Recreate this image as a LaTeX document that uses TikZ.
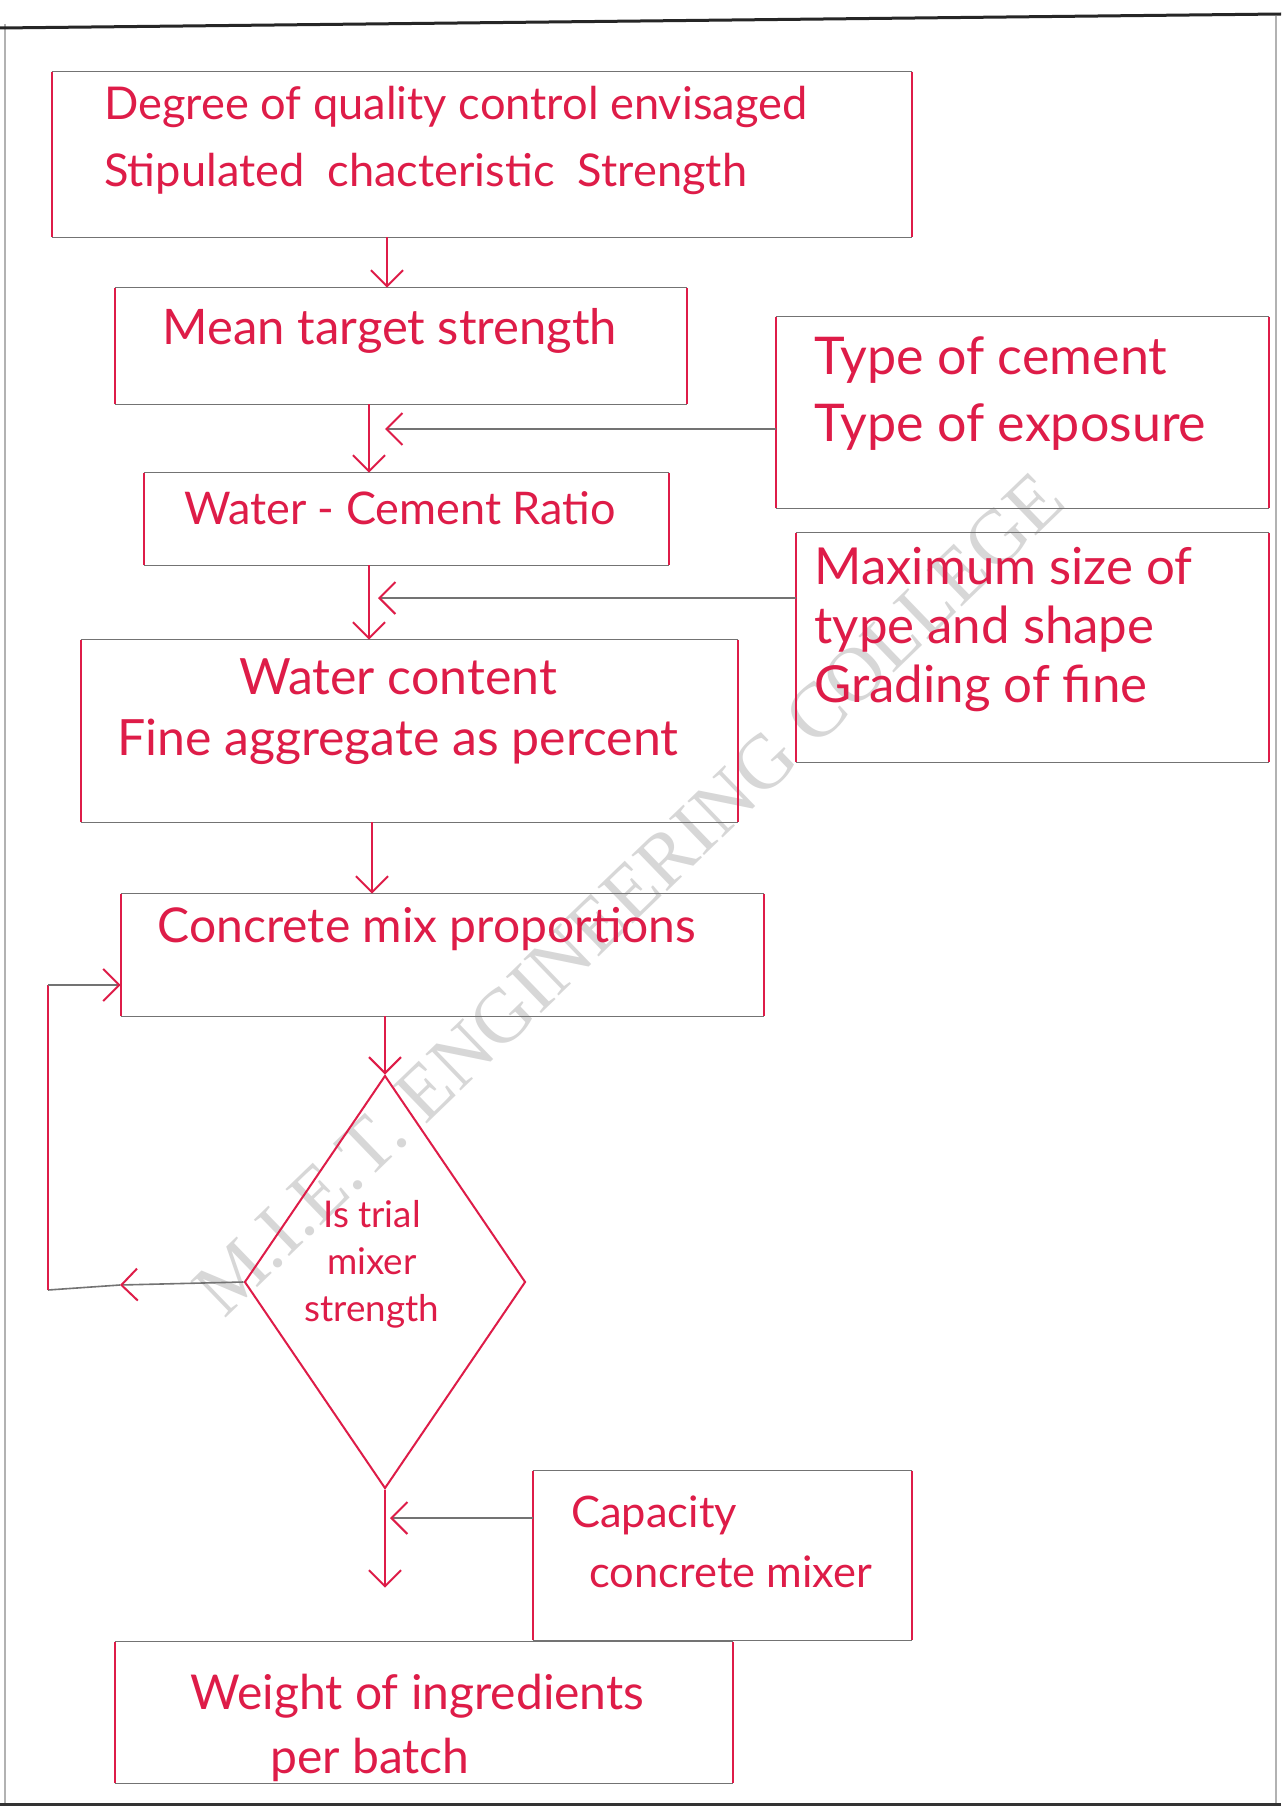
\documentclass[tikz,border=0pt]{standalone}
\usepackage{fontspec}
\setmainfont{Lato}
\newfontfamily\wmfont{Liberation Serif}
\usetikzlibrary{shapes.geometric,arrows.meta,calc}
\definecolor{pen}{RGB}{222,28,72}
\definecolor{pencil}{RGB}{115,115,115}
\definecolor{wmark}{RGB}{215,215,215}
\newcommand{\drawbox}[1]{%
  \draw[hline] (#1.north west) -- (#1.north east);
  \draw[hline] (#1.south west) -- (#1.south east);
  \draw[vline] (#1.north west) -- (#1.south west);
  \draw[vline] (#1.north east) -- (#1.south east);}
\begin{document}
\begin{tikzpicture}[x=0.5pt,y=-0.5pt,
  box/.style={rectangle, inner sep=0pt, draw=none},
  hline/.style={draw=pencil, line width=0.8pt},
  vline/.style={draw=pen, line width=1pt},
  lbl/.style={text=pen, inner sep=0pt, font=\fontsize{22}{33}\selectfont},
  vconn/.style={draw=pen, line width=1pt, -{Straight Barb[length=8pt,width=16pt,color=pen]}},
  hconn/.style={draw=pencil, line width=0.8pt, -{Straight Barb[length=8pt,width=16pt,color=pen,line width=1pt]}},
  dia/.style={diamond, draw=pen, line width=1pt, inner sep=0pt, minimum width=140.5pt, minimum height=206.5pt},
]
\useasboundingbox (0,0) rectangle (1281,1809);
\fill[white] (0,0) rectangle (1281,1809);
% watermark
\node[rotate=44, text=wmark, inner sep=0pt] (wm) at (629,894) {\resizebox{587pt}{!}{\wmfont M.I.E.T. ENGINEERING COLLEGE}};
% page frame
\draw[gray!60, line width=0.8pt] (5,24) -- (5,1803);
\draw[gray!60, line width=0.8pt] (1276,16) -- (1276,1803);
\draw[black!85, line width=1.5pt] (0,28) -- (1281,14);
\draw[black!80, line width=1.5pt] (0,1804) -- (1281,1804);

% boxes
\node[box, minimum width=430pt, minimum height=82.5pt] (b1) at (482,154.5) {};
\node[box, minimum width=286pt, minimum height=58pt] (b2) at (401,346) {};
\node[box, minimum width=246.5pt, minimum height=95.5pt] (b3) at (1022.5,412.5) {};
\node[box, minimum width=262.5pt, minimum height=46pt] (b4) at (406.5,519) {};
\node[box, minimum width=236.5pt, minimum height=114.5pt] (b5) at (1032.5,647.5) {};
\node[box, minimum width=328.5pt, minimum height=91pt] (b6) at (409.5,731) {};
\node[box, minimum width=321.5pt, minimum height=61pt] (b7) at (442.5,955) {};
\node[dia] (d) at (385,1282) {};
\node[box, minimum width=189.5pt, minimum height=84.5pt] (b8) at (722.5,1555.5) {};
\node[box, minimum width=309pt, minimum height=70.5pt] (b9) at (424,1712.5) {};
\drawbox{b1}\drawbox{b2}\drawbox{b3}\drawbox{b4}\drawbox{b5}
\drawbox{b6}\drawbox{b7}\drawbox{b8}\drawbox{b9}

% texts
\node[lbl, anchor=west, align=left, font=\fontsize{22.6}{33.5}\selectfont] (t1) at (104,140) {Degree of quality control envisaged\\Stipulated \ chacteristic \ Strength};
\node[lbl, font=\fontsize{24.5}{30}\selectfont] (t2) at (390,331) {Mean target strength};
\node[lbl, anchor=west, align=left, font=\fontsize{26}{33.5}\selectfont] (t3) at (814,394) {Type of cement\\Type of exposure};
\node[lbl, font=\fontsize{22.5}{30}\selectfont] (t4) at (400,508) {Water - Cement Ratio};
\node[lbl, anchor=west, align=left, font=\fontsize{25.5}{29.5}\selectfont] (t5) at (814,630) {Maximum size of\\type and shape\\Grading of fine};
\node[lbl, align=center, font=\fontsize{25}{30.5}\selectfont] (t6) at (398,712) {Water content\\Fine aggregate as percent};
\node[lbl, font=\fontsize{24}{30}\selectfont] (t7) at (427,929) {Concrete mix proportions};
\node[lbl, align=center, font=\fontsize{18.4}{23.5}\selectfont] (t8) at (372,1264) {Is trial\\mixer\\strength};
\node[lbl, anchor=west, align=left, font=\fontsize{21.7}{30}\selectfont] (t9) at (571,1542) {Capacity\\\hspace{9pt}concrete mixer};
\node[lbl, anchor=west, align=left, font=\fontsize{24}{32}\selectfont] (t10) at (190,1728) {Weight of ingredients\\\hspace{40pt}per batch};

% trunk coordinates
\coordinate (x1) at (387,0);
\coordinate (x2) at (369,0);
\coordinate (x4) at (372,0);
\coordinate (j1) at (385,429);
\coordinate (j2) at (378,598);
\coordinate (j3) at (390,1518);
\coordinate (l1) at (120,1285);
\coordinate (l2) at (48,1290);
\coordinate (l3) at (48,985);

% vertical connectors
\draw[vconn] (b1.south -| x1) -- (b2.north -| x1);
\draw[vconn] (b2.south -| x2) -- (b4.north -| x2);
\draw[vconn] (b4.south -| x2) -- (b6.north -| x2);
\draw[vconn] (b6.south -| x4) -- (b7.north -| x4);
\draw[vconn] (b7.south -| d.north) -- (d.north);
\draw[vconn, shorten >=27pt] (d.south) -- (b9.north -| d.south);

% side inputs
\draw[hconn] (b3.west |- j1) -- (j1);
\draw[hconn] (b5.west |- j2) -- (j2);
\draw[hconn] (b8.west |- j3) -- (j3);

% feedback loop
\draw[hconn] (d.west) -- (l1);
\draw[hline] (l1) -- (l2);
\draw[vline] (l2) -- (l3);
\draw[hconn] (l3) -- (b7.west |- l3);
\end{tikzpicture}
\end{document}
